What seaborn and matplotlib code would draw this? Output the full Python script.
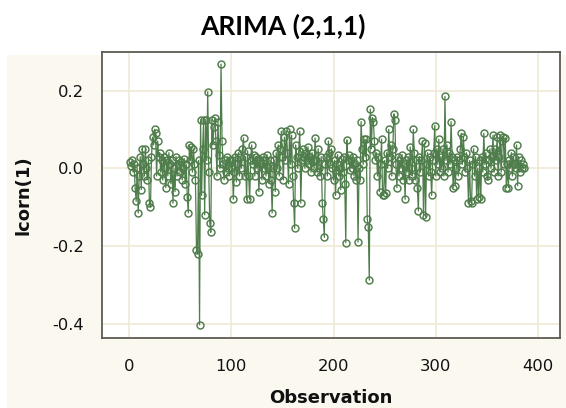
import numpy as np
import pandas as pd
import matplotlib
matplotlib.use("Agg")
import matplotlib.pyplot as plt
import seaborn as sns
from matplotlib.patches import Rectangle

residual = [
    0.015, 0.005, 0.02, -0.01, 0.01, -0.05, -0.085, 0.0, -0.115, -0.02,
    0.03, -0.055, 0.05, 0.01, -0.02, 0.05, 0.0, -0.03, 0.02, -0.09,
    -0.1, 0.03, 0.08, 0.06, 0.1, 0.09, -0.02, 0.07, 0.03, 0.04,
    -0.01, 0.02, -0.03, 0.03, 0.0, -0.05, 0.02, -0.02, 0.04, 0.01,
    -0.04, 0.02, -0.09, 0.0, -0.06, 0.03, -0.02, 0.01, 0.02, -0.01,
    0.015, -0.03, 0.0, 0.025, -0.04, 0.01, -0.075, -0.115, 0.06, 0.02,
    0.055, -0.01, 0.05, 0.01, -0.03, -0.21, -0.22, 0.02, -0.403, 0.125,
    -0.07, 0.05, 0.125, -0.12, 0.125, 0.02, 0.197, -0.01, -0.14, -0.165,
    0.125, 0.06, 0.105, 0.13, 0.07, -0.02, 0.12, 0.035, 0.0, 0.268,
    0.07, 0.01, -0.03, 0.02, -0.01, 0.03, 0.0, -0.02, 0.02, 0.0,
    0.02, -0.08, -0.01, 0.03, -0.035, 0.01, 0.04, -0.02, 0.03, 0.0,
    0.05, 0.078, -0.02, 0.03, -0.08, 0.045, -0.02, -0.08, 0.02, 0.06,
    0.01, 0.035, -0.02, 0.03, 0.0, 0.025, -0.06, 0.02, 0.01, -0.03,
    0.03, 0.0, 0.02, -0.02, 0.035, 0.0, -0.04, 0.02, -0.03, -0.115,
    0.0, 0.02, -0.06, 0.04, 0.0, 0.06, -0.02, 0.05, 0.095, 0.03,
    -0.03, 0.08, 0.02, 0.095, 0.04, -0.04, 0.1, 0.01, 0.085, -0.02,
    -0.09, -0.155, 0.06, 0.03, 0.0, 0.045, 0.095, -0.09, 0.02, 0.05,
    0.03, 0.0, 0.04, 0.02, 0.055, 0.01, 0.03, -0.01, 0.04, 0.02,
    0.0, 0.078, 0.02, -0.01, 0.05, 0.0, -0.02, 0.03, -0.09, -0.13,
    -0.178, 0.01, 0.03, -0.02, 0.07, 0.04, 0.01, 0.05, 0.0, -0.03,
    0.02, -0.07, 0.01, 0.035, -0.02, 0.0, -0.055, 0.025, -0.01, 0.03,
    -0.04, -0.192, 0.073, 0.02, 0.035, -0.005, 0.02, 0.0, 0.03, -0.02,
    0.01, -0.03, 0.02, -0.19, 0.0, -0.03, 0.12, 0.05, 0.01, 0.075,
    0.03, 0.075, -0.13, -0.15, -0.288, 0.152, 0.05, 0.13, 0.12, 0.07,
    0.02, 0.04, -0.02, 0.03, -0.06, 0.01, 0.075, -0.07, -0.07, 0.02,
    -0.065, 0.04, 0.0, 0.1, 0.03, 0.06, -0.02, 0.05, 0.14, 0.125,
    0.01, -0.05, 0.03, -0.02, 0.02, 0.0, 0.035, -0.03, 0.01, -0.08,
    0.02, -0.01, 0.03, -0.03, 0.055, 0.0, -0.02, 0.1, 0.04, -0.03,
    0.02, -0.05, -0.11, 0.03, -0.01, 0.02, 0.07, -0.12, 0.065, -0.125,
    0.01, 0.04, -0.02, 0.03, -0.01, -0.07, 0.02, 0.04, 0.11, -0.02,
    0.05, 0.01, 0.075, -0.01, 0.03, 0.0, 0.05, -0.02, 0.185, 0.02,
    0.06, -0.01, 0.04, 0.01, 0.12, 0.03, -0.05, 0.02, -0.045, 0.0,
    0.03, -0.02, 0.02, 0.05, 0.09, 0.01, 0.08, 0.03, -0.01, 0.04,
    0.0, -0.09, 0.02, -0.085, -0.09, 0.01, 0.05, -0.02, 0.03, -0.08,
    0.0, -0.075, 0.02, -0.08, 0.03, -0.01, 0.09, 0.01, 0.04, -0.02,
    -0.03, 0.02, 0.05, 0.0, 0.03, 0.085, -0.01, 0.05, 0.02, 0.08,
    -0.02, 0.03, 0.085, -0.01, 0.07, 0.08, 0.01, 0.078, -0.05, 0.01,
    -0.05, 0.02, 0.0, 0.04, -0.02, 0.03, 0.01, 0.0, 0.06, -0.045,
    0.03, -0.01, 0.02, 0.0, 0.01, 0.0,
]
observation = list(range(1, len(residual) + 1))

x_ticks = [0, 100, 200, 300, 400]
y_ticks = [-0.4, -0.2, 0.0, 0.2]
y_tick_labels = ["-0.4", "-0.2", "0.0", "0.2"]

df = pd.DataFrame({"Observation": observation, "lcorn(1)": residual})

W, H = 566, 408
GREEN = "#4f7d4b"
CREAM = "#fbf8f0"
GRID = "#efe9d6"
FRAME = "#5c5a52"
SANS = ["DejaVu Sans"]

sns.set_theme(style="white")
plt.rcParams["font.family"] = SANS

fig = plt.figure(figsize=(W / 100, H / 100), dpi=100, facecolor="white")
fig.add_artist(Rectangle((7 / W, 0), 1, (H - 55) / H, transform=fig.transFigure,
                         facecolor=CREAM, edgecolor="none", zorder=-2))
fig.add_artist(Rectangle((165 / W, (H - 60) / H), (387 - 165) / W, 5 / H,
                         transform=fig.transFigure, facecolor="white",
                         edgecolor="none", zorder=-1))

left, right, top, bottom = 102, 560, 51.7, 338
ax = fig.add_axes([left / W, (H - bottom) / H, (right - left) / W, (bottom - top) / H])
ax.set_facecolor("white")

sns.lineplot(data=df, x="Observation", y="lcorn(1)", ax=ax, color=GREEN,
             linewidth=0.9, marker="o", markersize=5.0, markerfacecolor="none",
             markeredgecolor=GREEN, markeredgewidth=1.05, estimator=None,
             errorbar=None, zorder=3)

ax.set_xlim(-26.4, 421.5)
ax.set_ylim(-0.437, 0.300)
ax.set_xticks(x_ticks)
ax.set_xticklabels([str(t) for t in x_ticks])
ax.set_yticks(y_ticks)
ax.set_yticklabels(y_tick_labels)

ax.grid(True, color=GRID, linewidth=1.2, zorder=0)
ax.set_axisbelow(True)
for s in ax.spines.values():
    s.set_color(FRAME)
    s.set_linewidth(1.3)
ax.tick_params(axis="both", direction="out", length=8, width=1.1, color=FRAME,
               labelsize=11.8, labelcolor="#111111")
ax.tick_params(axis="x", pad=7)
ax.tick_params(axis="y", pad=5)

ax.set_xlabel("Observation", fontsize=13, fontweight="bold", color="#111111", labelpad=11)
ax.set_ylabel("lcorn(1)", fontsize=13, fontweight="bold", color="#111111", labelpad=14)

fig.text(0.5, 1 - 26 / H, "ARIMA (2,1,1)", ha="center", va="center",
         fontsize=19, fontweight="bold", family=["Lato", "DejaVu Sans"], color="black")

fig.savefig("out.png", dpi=100)
